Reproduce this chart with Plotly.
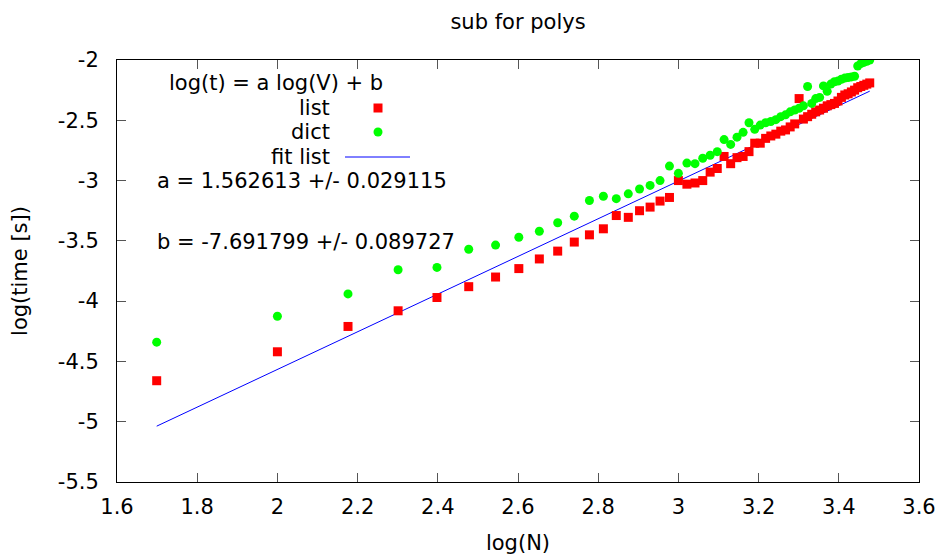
import numpy as np
import plotly.graph_objects as go

# Problem sizes N (x axis shows log10 N)
N = [50, 100, 150, 200, 250, 300, 350, 400, 450, 500,
     550, 600, 650, 700, 750, 800, 850, 900, 950, 1000,
     1050, 1100, 1150, 1200, 1250, 1300, 1350, 1400, 1450, 1500,
     1550, 1600, 1650, 1700, 1750, 1800, 1850, 1900, 1950, 2000,
     2050, 2100, 2150, 2200, 2250, 2300, 2350, 2400, 2450, 2500,
     2550, 2600, 2650, 2700, 2750, 2800, 2850, 2900, 2950, 3000]

# log10(time) for list implementation
list_logt = [-4.66, -4.42, -4.21, -4.08, -3.97, -3.88, -3.80, -3.73, -3.65, -3.585,
             -3.51, -3.45, -3.40, -3.29, -3.305, -3.25, -3.22, -3.17, -3.14, -3.00,
             -3.03, -3.02, -3.00, -2.93, -2.90, -2.80, -2.86, -2.81, -2.80, -2.76,
             -2.69, -2.69, -2.65, -2.63, -2.615, -2.59, -2.58, -2.555, -2.53, -2.32,
             -2.49, -2.47, -2.45, -2.43, -2.415, -2.40, -2.38, -2.37, -2.36, -2.34,
             -2.31, -2.29, -2.28, -2.265, -2.25, -2.23, -2.22, -2.21, -2.20, -2.19]

# log10(time) for dict implementation
dict_logt = [-4.34, -4.125, -3.94, -3.74, -3.72, -3.57, -3.535, -3.47, -3.42, -3.35,
             -3.295, -3.165, -3.13, -3.15, -3.11, -3.07, -3.04, -3.00, -2.88, -2.94,
             -2.855, -2.86, -2.815, -2.79, -2.76, -2.66, -2.70, -2.64, -2.60, -2.52,
             -2.575, -2.54, -2.52, -2.51, -2.495, -2.47, -2.455, -2.43, -2.415, -2.40,
             -2.38, -2.22, -2.36, -2.32, -2.31, -2.215, -2.26, -2.20, -2.18, -2.175,
             -2.16, -2.15, -2.145, -2.14, -2.135, -2.05, -2.03, -2.02, -2.01, -2.00]

# fit parameters: log(t) = a log(V) + b
fit_a = 1.562613
fit_a_err = 0.029115
fit_b = -7.691799
fit_b_err = 0.089727

x_tickvals = [1.6, 1.8, 2.0, 2.2, 2.4, 2.6, 2.8, 3.0, 3.2, 3.4, 3.6]
x_ticktext = ["1.6", "1.8", "2", "2.2", "2.4", "2.6", "2.8", "3", "3.2", "3.4", "3.6"]
y_tickvals = [-5.5, -5.0, -4.5, -4.0, -3.5, -3.0, -2.5, -2.0]
y_ticktext = ["-5.5", "-5", "-4.5", "-4", "-3.5", "-3", "-2.5", "-2"]

logN = np.log10(np.array(N, dtype=float))
fit_y = fit_a * logN + fit_b

FONT = "DejaVu Sans"
FS = 21

fig = go.Figure()
fig.add_trace(go.Scatter(x=logN, y=fit_y, mode="lines",
                         line=dict(color="#0000ff", width=1), name="fit list"))
fig.add_trace(go.Scatter(x=logN, y=list_logt, mode="markers",
                         marker=dict(symbol="square", size=9, color="#ff0000"),
                         name="list"))
fig.add_trace(go.Scatter(x=logN, y=dict_logt, mode="markers",
                         marker=dict(symbol="circle", size=9, color="#00ff00"),
                         name="dict"))

# page body has an 8px margin; place the plot area at window px 117..919 x 60..482
OFF = 8
W, H = 944, 556
L, T = 117 - OFF, 60 - OFF
pw, ph = 802, 422
R = W - L - pw
B = H - T - ph


def px(xw):
    return (xw - OFF - L) / pw


def py(yw):
    return (T + ph - (yw - OFF)) / ph


annotations = [
    dict(text="log(t) = a log(V) + b", x=px(275.5), y=py(83), xanchor="center"),
    dict(text="list", x=px(332), y=py(108), xanchor="right"),
    dict(text="dict", x=px(332), y=py(132), xanchor="right"),
    dict(text="fit list", x=px(332), y=py(157), xanchor="right"),
    dict(text="a = %.6f +/- %.6f" % (fit_a, fit_a_err), x=px(155), y=py(181), xanchor="left"),
    dict(text="b = %.6f +/- %.6f" % (fit_b, fit_b_err), x=px(155), y=py(242), xanchor="left"),
]
for a in annotations:
    a.update(xref="paper", yref="paper", yanchor="middle", showarrow=False,
             font=dict(family=FONT, size=FS, color="black"))

shapes = [
    dict(type="rect", xref="paper", yref="paper", xsizemode="pixel", ysizemode="pixel",
         xanchor=px(378), yanchor=py(108), x0=-4.5, x1=4.5, y0=-4.5, y1=4.5,
         fillcolor="#ff0000", line=dict(width=0)),
    dict(type="circle", xref="paper", yref="paper", xsizemode="pixel", ysizemode="pixel",
         xanchor=px(378), yanchor=py(132), x0=-4.5, x1=4.5, y0=-4.5, y1=4.5,
         fillcolor="#00ff00", line=dict(width=0)),
    dict(type="line", xref="paper", yref="paper", x0=px(345), x1=px(410),
         y0=py(157), y1=py(157), line=dict(color="#0000ff", width=1)),
]

axis_common = dict(showgrid=False, zeroline=False, showline=True, linecolor="black",
                   linewidth=1, mirror="ticks", ticks="inside", ticklen=9,
                   tickcolor="#555555", tickwidth=1,
                   tickfont=dict(family=FONT, size=FS, color="black"))

fig.update_layout(
    width=W, height=H,
    margin=dict(l=L, r=R, t=T, b=B),
    paper_bgcolor="white", plot_bgcolor="white",
    showlegend=False,
    title=dict(text="sub for polys", x=(L + pw / 2) / W, xanchor="center",
               y=1 - (22 - OFF) / H, yanchor="middle",
               font=dict(family=FONT, size=FS, color="black")),
    xaxis=dict(range=[1.6, 3.6], tickvals=x_tickvals, ticktext=x_ticktext,
               title=dict(text="log(N)", standoff=17,
                          font=dict(family=FONT, size=FS, color="black")),
               ticklabelstandoff=6, **axis_common),
    yaxis=dict(range=[-5.5, -2.0], tickvals=y_tickvals, ticktext=y_ticktext,
               title=dict(text="log(time [s])", standoff=24,
                          font=dict(family=FONT, size=FS, color="black")),
               ticklabelstandoff=13, **axis_common),
    annotations=annotations,
    shapes=shapes,
)

fig.write_html("out.html")
